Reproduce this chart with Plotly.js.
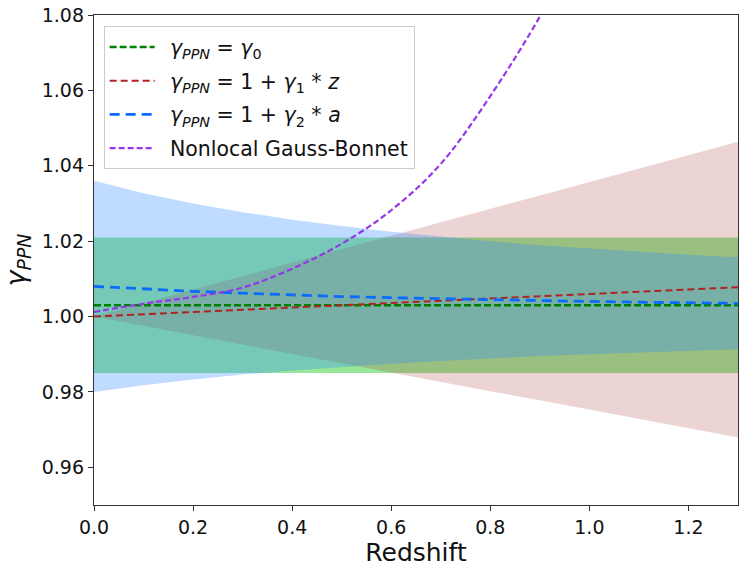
<!DOCTYPE html>
<html>
<head>
<meta charset="utf-8">
<script src="https://cdn.plot.ly/plotly-3.0.1.min.js"></script>
<style>
  html, body { margin: 0; padding: 0; background: white; }
  #chart { width: 747px; height: 572px; }
</style>
</head>
<body>
<div id="chart"></div>
<script>
// redshift grid
const z = [0.0, 0.1, 0.2, 0.3, 0.4, 0.5, 0.6, 0.7, 0.8, 0.9, 1.0, 1.1, 1.2, 1.3];

// gamma_PPN = gamma_0
const g0Mid = [1.003, 1.003, 1.003, 1.003, 1.003, 1.003, 1.003, 1.003, 1.003, 1.003, 1.003, 1.003, 1.003, 1.003];
const g0Lo  = [0.985, 0.985, 0.985, 0.985, 0.985, 0.985, 0.985, 0.985, 0.985, 0.985, 0.985, 0.985, 0.985, 0.985];
const g0Hi  = [1.021, 1.021, 1.021, 1.021, 1.021, 1.021, 1.021, 1.021, 1.021, 1.021, 1.021, 1.021, 1.021, 1.021];

// gamma_PPN = 1 + gamma_1 * z
const g1Mid = [1.000, 1.0006, 1.0012, 1.0018, 1.0024, 1.0030, 1.0036, 1.0042, 1.0048, 1.0054, 1.0060, 1.0066, 1.0072, 1.0078];
const g1Lo  = [1.000, 0.9975, 0.9951, 0.9926, 0.9901, 0.9877, 0.9852, 0.9827, 0.9802, 0.9778, 0.9753, 0.9728, 0.9704, 0.9679];
const g1Hi  = [1.000, 1.0036, 1.0071, 1.0107, 1.0143, 1.0179, 1.0214, 1.0250, 1.0286, 1.0321, 1.0357, 1.0393, 1.0428, 1.0464];

// gamma_PPN = 1 + gamma_2 * a
const g2Mid = [1.0080, 1.0073, 1.0067, 1.0062, 1.0057, 1.0053, 1.0050, 1.0047, 1.0044, 1.0042, 1.0040, 1.0038, 1.0036, 1.0035];
const g2Lo  = [0.9800, 0.9818, 0.9833, 0.9846, 0.9857, 0.9867, 0.9875, 0.9882, 0.9889, 0.9895, 0.9900, 0.9905, 0.9909, 0.9913];
const g2Hi  = [1.0360, 1.0327, 1.0300, 1.0277, 1.0257, 1.0240, 1.0225, 1.0212, 1.0200, 1.0189, 1.0180, 1.0171, 1.0164, 1.0157];

// nonlocal Gauss-Bonnet
const zGB = [0.0, 0.1, 0.2, 0.3, 0.4, 0.5, 0.6, 0.7, 0.8, 0.9, 0.92];
const gGB = [1.0012, 1.0034, 1.0052, 1.0077, 1.0127, 1.0193, 1.0282, 1.0405, 1.0585, 1.0796, 1.0850];

const legendNames = [
  '\u2002<i>γ</i><sub><i>PPN</i></sub> = <i>γ</i><sub>0</sub>',
  '\u2002<i>γ</i><sub><i>PPN</i></sub> = 1 + <i>γ</i><sub>1</sub> * <i>z</i>',
  '\u2002<i>γ</i><sub><i>PPN</i></sub> = 1 + <i>γ</i><sub>2</sub> * <i>a</i>',
  '\u2002Nonlocal Gauss-Bonnet'
];

function band(lo, hi, color){
  return [
    { x: z, y: lo, mode: 'lines', line: { width: 0 }, showlegend: false, hoverinfo: 'skip' },
    { x: z, y: hi, mode: 'lines', line: { width: 0 }, fill: 'tonexty', fillcolor: color, showlegend: false, hoverinfo: 'skip' }
  ];
}

let data = [];
data = data.concat(band(g0Lo, g0Hi, 'rgba(50,205,50,0.5)'));
data = data.concat(band(g1Lo, g1Hi, 'rgba(165,42,42,0.2)'));
data = data.concat(band(g2Lo, g2Hi, 'rgba(42,135,255,0.3)'));

data.push({ x: z, y: g0Mid, mode: 'lines', name: legendNames[0], legendgroup: 'a',
            line: { color: '#008000', width: 2.5, dash: '7px,3px' } });
data.push({ x: z, y: g1Mid, mode: 'lines', name: legendNames[1], legendgroup: 'b',
            line: { color: '#b22222', width: 2, dash: '7px,4px' } });
data.push({ x: z, y: g2Mid, mode: 'lines', name: legendNames[2], legendgroup: 'c',
            line: { color: '#0a6cff', width: 2.8, dash: '10px,6px' } });
data.push({ x: zGB, y: gGB, mode: 'lines', name: legendNames[3], legendgroup: 'd',
            line: { color: '#9436ea', width: 2.2, dash: '6px,3px', shape: 'spline' } });

const tickFont = { family: 'DejaVu Sans', size: 19, color: '#111' };

let layout = {
  width: 747,
  height: 572,
  paper_bgcolor: 'white',
  plot_bgcolor: 'white',
  margin: { l: 94, r: 9, t: 15, b: 67 },
  showlegend: true,
  legend: {
    x: 0.015, y: 0.977, xanchor: 'left', yanchor: 'top',
    bgcolor: 'rgba(255,255,255,0.9)',
    bordercolor: '#cccccc', borderwidth: 1,
    font: { family: 'DejaVu Sans', size: 20.5, color: '#111' },
    traceorder: 'grouped',
    tracegroupgap: 4,
    itemwidth: 45
  },
  xaxis: {
    range: [0, 1.3],
    tickvals: [0, 0.2, 0.4, 0.6, 0.8, 1.0, 1.2],
    ticktext: ['0.0', '0.2', '0.4', '0.6', '0.8', '1.0', '1.2'],
    ticks: 'outside', ticklen: 5, tickcolor: '#333',
    showgrid: false, zeroline: false,
    showline: true, linecolor: '#333', linewidth: 1.2, mirror: true,
    tickfont: tickFont,
    title: { text: 'Redshift', font: { family: 'DejaVu Sans', size: 25, color: '#111' }, standoff: 4 }
  },
  yaxis: {
    range: [0.95, 1.08],
    tickvals: [0.96, 0.98, 1.00, 1.02, 1.04, 1.06, 1.08],
    ticktext: ['0.96', '0.98', '1.00', '1.02', '1.04', '1.06', '1.08'],
    ticks: 'outside', ticklen: 5, tickcolor: '#333',
    showgrid: false, zeroline: false,
    showline: true, linecolor: '#333', linewidth: 1.2, mirror: true,
    tickfont: tickFont,
    title: { text: '<i>γ</i><sub><i>PPN</i></sub>', font: { family: 'DejaVu Sans', size: 27, color: '#111' }, standoff: 8 }
  }
};

Plotly.newPlot('chart', data, layout, { staticPlot: true, displayModeBar: false });
</script>
</body>
</html>
